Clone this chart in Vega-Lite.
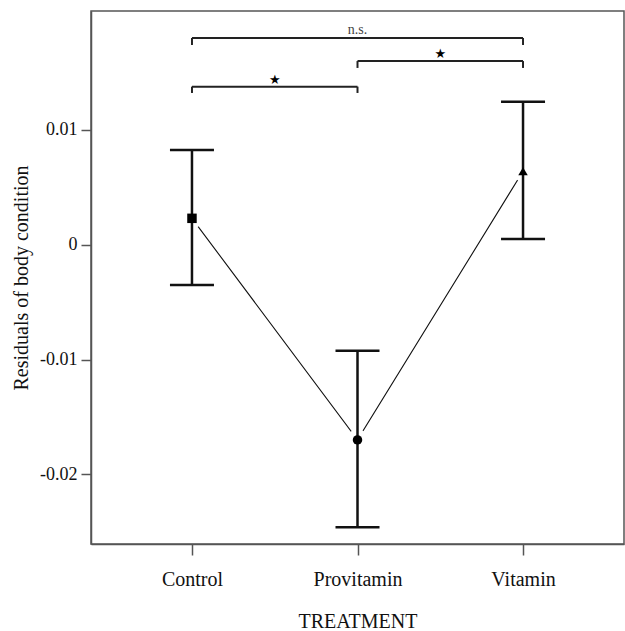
{
  "$schema": "https://vega.github.io/schema/vega-lite/v6.json",
  "width": 533,
  "height": 533,
  "autosize": {"type": "none"},
  "padding": {"left": 91, "top": 11, "right": 1, "bottom": 87},
  "background": "white",
  "config": {
    "font": "Liberation Serif",
    "view": {"stroke": "#555", "strokeWidth": 1.5},
    "axis": {
      "grid": false,
      "domainColor": "#555",
      "domainWidth": 1.5,
      "tickColor": "#555",
      "tickWidth": 1.5,
      "labelColor": "#111",
      "titleColor": "#111",
      "labelFont": "Liberation Serif",
      "titleFont": "Liberation Serif",
      "titleFontWeight": "normal"
    }
  },
  "datasets": {
    "groups": [
      {"treatment": "Control", "pos": 0, "mean": 0.0023, "lower": -0.0035, "upper": 0.00825},
      {"treatment": "Provitamin", "pos": 1, "mean": -0.0170, "lower": -0.02462, "upper": -0.00923},
      {"treatment": "Vitamin", "pos": 2, "mean": 0.0064, "lower": 0.0005, "upper": 0.01246}
    ],
    "brackets": [
      {"from": 0, "to": 2, "mid": 1, "level": 0.01801, "label": "n.s."},
      {"from": 1, "to": 2, "mid": 1.5, "level": 0.0160, "label": "★"},
      {"from": 0, "to": 1, "mid": 0.5, "level": 0.01377, "label": "★"}
    ],
    "bracket_ends": [
      {"pos": 0, "top": 0.01801, "bottom": 0.0174},
      {"pos": 2, "top": 0.01801, "bottom": 0.0174},
      {"pos": 1, "top": 0.0160, "bottom": 0.0154},
      {"pos": 2, "top": 0.0160, "bottom": 0.0154},
      {"pos": 0, "top": 0.01377, "bottom": 0.01322},
      {"pos": 1, "top": 0.01377, "bottom": 0.01322}
    ]
  },
  "encoding": {
    "x": {
      "field": "pos",
      "type": "quantitative",
      "scale": {"domain": [-0.61, 2.61], "nice": false, "zero": false},
      "axis": {
        "title": "TREATMENT",
        "values": [0, 1, 2],
        "labelExpr": "datum.value == 0 ? 'Control' : datum.value == 1 ? 'Provitamin' : 'Vitamin'",
        "labelFontSize": 20,
        "titleFontSize": 20,
        "tickSize": 11,
        "labelPadding": 14,
        "titlePadding": 22
      }
    }
  },
  "layer": [
    {
      "data": {"name": "groups"},
      "mark": {"type": "line", "color": "#111", "strokeWidth": 1.1},
      "encoding": {
        "y": {
          "field": "mean",
          "type": "quantitative",
          "scale": {"domain": [-0.02607, 0.02036], "nice": false, "zero": false},
          "axis": {
            "title": "Residuals of body condition",
            "values": [-0.02, -0.01, 0, 0.01],
            "labelExpr": "'' + datum.value",
            "labelFontSize": 18,
            "titleFontSize": 20,
            "tickSize": 10,
            "labelPadding": 4,
            "titlePadding": 8
          }
        }
      }
    },
    {
      "data": {"name": "groups"},
      "mark": {"type": "point", "filled": true, "shape": "circle", "color": "white", "opacity": 1, "size": 450},
      "encoding": {"y": {"field": "mean", "type": "quantitative"}}
    },
    {
      "data": {"name": "groups"},
      "mark": {"type": "rule", "color": "#111", "strokeWidth": 2.5},
      "encoding": {
        "y": {"field": "lower", "type": "quantitative"},
        "y2": {"field": "upper"}
      }
    },
    {
      "data": {"name": "groups"},
      "mark": {"type": "tick", "orient": "horizontal", "color": "#111", "size": 44, "thickness": 2.5, "opacity": 1},
      "encoding": {"y": {"field": "upper", "type": "quantitative"}}
    },
    {
      "data": {"name": "groups"},
      "mark": {"type": "tick", "orient": "horizontal", "color": "#111", "size": 44, "thickness": 2.5, "opacity": 1},
      "encoding": {"y": {"field": "lower", "type": "quantitative"}}
    },
    {
      "data": {"name": "groups"},
      "mark": {"type": "point", "filled": true, "color": "#000", "opacity": 1, "size": 90},
      "encoding": {
        "y": {"field": "mean", "type": "quantitative"},
        "shape": {
          "field": "treatment",
          "type": "nominal",
          "scale": {"domain": ["Control", "Provitamin", "Vitamin"], "range": ["square", "circle", "triangle-up"]},
          "legend": null
        }
      }
    },
    {
      "data": {"name": "brackets"},
      "mark": {"type": "rule", "color": "#222", "strokeWidth": 2},
      "encoding": {
        "x": {"field": "from", "type": "quantitative"},
        "x2": {"field": "to"},
        "y": {"field": "level", "type": "quantitative"}
      }
    },
    {
      "data": {"name": "bracket_ends"},
      "mark": {"type": "rule", "color": "#222", "strokeWidth": 2},
      "encoding": {
        "y": {"field": "top", "type": "quantitative"},
        "y2": {"field": "bottom"}
      }
    },
    {
      "data": {"name": "brackets"},
      "transform": [{"filter": "datum.label == 'n.s.'"}],
      "mark": {"type": "text", "font": "Liberation Serif", "fontSize": 14, "color": "#444", "baseline": "alphabetic", "dy": -4},
      "encoding": {
        "x": {"field": "mid", "type": "quantitative"},
        "y": {"field": "level", "type": "quantitative"},
        "text": {"field": "label"}
      }
    },
    {
      "data": {"name": "brackets"},
      "transform": [{"filter": "datum.label != 'n.s.'"}],
      "mark": {"type": "text", "font": "DejaVu Sans", "fontSize": 13, "color": "#000", "baseline": "middle", "dy": -7},
      "encoding": {
        "x": {"field": "mid", "type": "quantitative"},
        "y": {"field": "level", "type": "quantitative"},
        "text": {"field": "label"}
      }
    }
  ]
}
